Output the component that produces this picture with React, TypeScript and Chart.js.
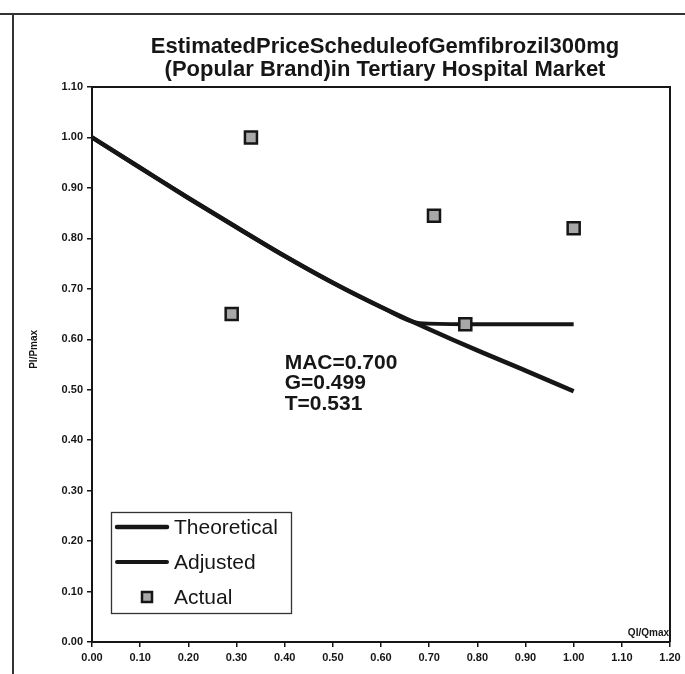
import React, { useEffect, useRef } from "react";
import { Chart, registerables } from "chart.js";

Chart.register(...registerables);

// Theoretical price schedule (Pi/Pmax against Qi/Qmax)
const theoryQ = [0, 0.1, 0.2, 0.3, 0.4, 0.5, 0.6, 0.7, 0.8, 0.9, 1.0];
const theoryP = [1.0, 0.94, 0.88, 0.822, 0.765, 0.712, 0.664, 0.62, 0.578, 0.538, 0.497];

// Adjusted schedule: follows the theoretical curve, then levels off
const adjustedQ = [0, 0.1, 0.2, 0.3, 0.4, 0.5, 0.6, 0.68, 0.775, 1.0];
const adjustedP = [1.0, 0.94, 0.88, 0.822, 0.765, 0.712, 0.664, 0.632, 0.63, 0.63];

// Observed prices
const actualQ = [0.29, 0.33, 0.71, 0.775, 1.0];
const actualP = [0.65, 1.0, 0.845, 0.63, 0.82];

const seriesNames = ["Theoretical", "Adjusted", "Actual"];
const titleLines = [
  "EstimatedPriceScheduleofGemfibrozil300mg",
  "(Popular Brand)in Tertiary Hospital Market",
];
const statLines = ["MAC=0.700", "G=0.499", "T=0.531"];
const statAnchor = { q: 0.4, p: 0.553 };
const yAxisTitle = "PI/Pmax";
const xAxisTitle = "QI/Qmax";

const xMax = 1.2;
const yMax = 1.1;
const tickStep = 0.1;

const FONT = "'Liberation Sans', Arial, sans-serif";
const INK = "#161616";
const MARK_FILL = "#a8a8a8";

const toPoints = (xs: number[], ys: number[]) => xs.map((x, i) => ({ x, y: ys[i] }));

const decorations = {
  id: "decorations",
  afterDraw(chart: any) {
    const { ctx, chartArea } = chart;
    const { left, right, top, bottom } = chartArea;
    const xs = chart.scales.x;
    const ys = chart.scales.y;

    ctx.save();
    // frame around plot area
    ctx.strokeStyle = INK;
    ctx.lineWidth = 2;
    ctx.beginPath();
    ctx.moveTo(left, top);
    ctx.lineTo(right, top);
    ctx.lineTo(right, bottom);
    ctx.stroke();

    // title
    ctx.fillStyle = INK;
    ctx.font = `bold 22px ${FONT}`;
    ctx.textAlign = "center";
    ctx.textBaseline = "middle";
    const cx = (left + right) / 2 + 4;
    ctx.fillText(titleLines[0], cx, top - 40);
    ctx.fillText(titleLines[1], cx, top - 17);

    // x axis title, inside plot at lower right
    ctx.font = `bold 10px ${FONT}`;
    ctx.textAlign = "right";
    ctx.fillText(xAxisTitle, right - 1, bottom - 9);

    // y axis title, rotated
    ctx.save();
    ctx.translate(left - 58, ys.getPixelForValue(0.58));
    ctx.rotate(-Math.PI / 2);
    ctx.textAlign = "center";
    ctx.fillText(yAxisTitle, 0, 0);
    ctx.restore();

    // statistics block
    ctx.font = `bold 21px ${FONT}`;
    ctx.textAlign = "left";
    const sx = xs.getPixelForValue(statAnchor.q);
    const sy = ys.getPixelForValue(statAnchor.p);
    statLines.forEach((t, i) => ctx.fillText(t, sx, sy + i * 20.5));

    // legend box
    const lx = left + 19;
    const lb = bottom - 29;
    const lw = 180;
    const lh = 101;
    ctx.fillStyle = "#ffffff";
    ctx.fillRect(lx, lb - lh, lw, lh);
    ctx.strokeStyle = "#333";
    ctx.lineWidth = 1.3;
    ctx.strokeRect(lx + 0.5, lb - lh + 0.5, lw, lh);
    const rows = [lb - lh + 15, lb - lh + 50, lb - lh + 85];
    const ds = chart.data.datasets;
    ctx.font = `21px ${FONT}`;
    ctx.textAlign = "left";
    ctx.fillStyle = INK;
    for (let i = 0; i < 3; i++) {
      const y = rows[i];
      if (i < 2) {
        ctx.strokeStyle = INK;
        ctx.lineWidth = ds[i].borderWidth;
        ctx.lineCap = "round";
        ctx.beginPath();
        ctx.moveTo(lx + 6, y);
        ctx.lineTo(lx + 56, y);
        ctx.stroke();
      } else {
        ctx.fillStyle = MARK_FILL;
        ctx.fillRect(lx + 31, y - 5, 10, 10);
        ctx.strokeStyle = INK;
        ctx.lineWidth = 2.5;
        ctx.strokeRect(lx + 31, y - 5, 10, 10);
        ctx.fillStyle = INK;
      }
      ctx.fillText(seriesNames[i], lx + 63, y + 1);
    }
    ctx.restore();
  },
};

export default function App() {
  const canvasRef = useRef<HTMLCanvasElement | null>(null);

  useEffect(() => {
    document.body.style.margin = "0";
    const canvas = canvasRef.current;
    if (!canvas) return;

    const tickFont = { family: FONT, size: 11, weight: "bold" as const };

    const chart = new Chart(canvas, {
      type: "scatter",
      data: {
        datasets: [
          {
            label: seriesNames[0],
            data: toPoints(theoryQ, theoryP),
            showLine: true,
            borderColor: INK,
            borderWidth: 4.5,
            pointRadius: 0,
            cubicInterpolationMode: "monotone",
            order: 2,
          },
          {
            label: seriesNames[1],
            data: toPoints(adjustedQ, adjustedP),
            showLine: true,
            borderColor: INK,
            borderWidth: 4,
            pointRadius: 0,
            cubicInterpolationMode: "monotone",
            order: 1,
          },
          {
            label: seriesNames[2],
            data: toPoints(actualQ, actualP),
            showLine: false,
            pointStyle: "rect",
            pointRadius: 8.5,
            backgroundColor: MARK_FILL,
            borderColor: INK,
            borderWidth: 2.5,
            order: 0,
          },
        ],
      },
      options: {
        animation: false,
        responsive: false,
        maintainAspectRatio: false,
        layout: { padding: { left: 22, right: 15, top: 87, bottom: 0 } },
        plugins: {
          legend: { display: false },
          title: { display: false },
          tooltip: { enabled: false },
        },
        scales: {
          x: {
            type: "linear",
            min: 0,
            max: xMax,
            afterFit: (s: any) => {
              s.height = 32;
            },
            ticks: {
              stepSize: tickStep,
              color: INK,
              font: tickFont,
              padding: 4,
              callback: (v: any) => Number(v).toFixed(2),
            },
            grid: {
              drawOnChartArea: false,
              drawTicks: true,
              tickLength: 5,
              color: INK,
              lineWidth: 1.5,
            },
            border: { display: true, color: INK, width: 2 },
          },
          y: {
            type: "linear",
            min: 0,
            max: yMax,
            afterFit: (s: any) => {
              s.width = 70;
            },
            ticks: {
              stepSize: tickStep,
              color: INK,
              font: tickFont,
              padding: 4,
              callback: (v: any) => Number(v).toFixed(2),
            },
            grid: {
              drawOnChartArea: false,
              drawTicks: true,
              tickLength: 5,
              color: INK,
              lineWidth: 1.5,
            },
            border: { display: true, color: INK, width: 2 },
          },
        },
      },
      plugins: [decorations],
    });

    return () => chart.destroy();
  }, []);

  return (
    <div style={{ position: "relative", width: 685, height: 674, background: "#fff" }}>
      <div
        style={{
          position: "absolute",
          left: 0,
          top: 13,
          right: 0,
          height: 0,
          borderTop: "2px solid #333",
        }}
      />
      <div
        style={{
          position: "absolute",
          left: 12,
          top: 13,
          width: 0,
          bottom: 0,
          borderLeft: "2px solid #333",
        }}
      />
      <canvas
        ref={canvasRef}
        width={685}
        height={674}
        style={{ position: "absolute", left: 0, top: 0, width: 685, height: 674 }}
      />
    </div>
  );
}
